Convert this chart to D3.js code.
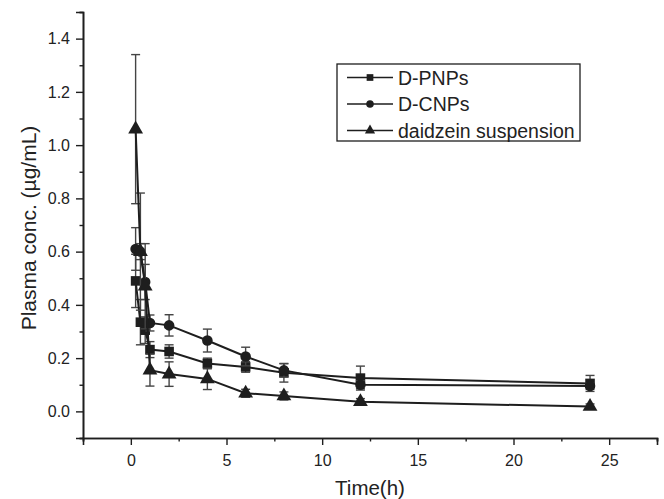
<!DOCTYPE html>
<html><head><meta charset="utf-8">
<script src="https://cdn.jsdelivr.net/npm/d3@7"></script>
<style>
html,body{margin:0;padding:0;background:#fff;}
text{font-family:"Liberation Sans",Arial,sans-serif;fill:#222;}
</style></head>
<body><svg id="c" width="664" height="499"></svg>
<script>
const times = [0.25, 0.5, 0.75, 1, 2, 4, 6, 8, 12, 24];
const dpnps = [0.49, 0.335, 0.305, 0.232, 0.225, 0.18, 0.167, 0.145, 0.125, 0.105];
const dpnpsErr = [0.10, 0.085, 0.05, 0.03, 0.025, 0.02, 0.02, 0.035, 0.045, 0.03];
const dcnps = [0.61, 0.60, 0.486, 0.332, 0.323, 0.266, 0.206, 0.154, 0.10, 0.095];
const dcnpsErr = [0.08, 0.03, 0.066, 0.03, 0.04, 0.043, 0.035, 0.025, 0.015, 0.012];
const susp = [1.06, 0.60, 0.47, 0.155, 0.14, 0.122, 0.068, 0.058, 0.036, 0.018];
const suspErr = [0.28, 0.22, 0.16, 0.06, 0.046, 0.04, 0.015, 0.015, 0.012, 0.01];
const seriesNames = ["D-PNPs", "D-CNPs", "daidzein suspension"];
const xMajor = [0, 5, 10, 15, 20, 25];
const xMinor = [-2.5, 2.5, 7.5, 12.5, 17.5, 22.5, 27.5];
const yMajor = [0.0, 0.2, 0.4, 0.6, 0.8, 1.0, 1.2, 1.4];
const yMinor = [-0.1, 0.1, 0.3, 0.5, 0.7, 0.9, 1.1, 1.3, 1.5];
const xTitle = "Time(h)";
const yTitle = "Plasma conc. (\u00b5g/mL)";

const svg = d3.select("#c");
const L = 83, R = 657, T = 12, B = 438;
const x = d3.scaleLinear().domain([-2.5, 27.5]).range([L, R]);
const y = d3.scaleLinear().domain([-0.1, 1.5]).range([B, T]);
const ink = "#1e1e1e";
const fam = '"Liberation Sans",Arial,sans-serif';

function styleAxis(g){
  g.select(".domain").attr("stroke", ink).attr("stroke-width", 1.6);
  g.selectAll(".tick line").attr("stroke", ink).attr("stroke-width", 1.4);
}
const gxm = svg.append("g").attr("transform", `translate(0,${B})`)
  .call(d3.axisBottom(x).tickValues(xMinor).tickSize(3.5).tickFormat(""));
styleAxis(gxm);
const gym = svg.append("g").attr("transform", `translate(${L},0)`)
  .call(d3.axisLeft(y).tickValues(yMinor).tickSize(3.5).tickFormat(""));
styleAxis(gym);
const gx = svg.append("g").attr("transform", `translate(0,${B})`)
  .call(d3.axisBottom(x).tickValues(xMajor).tickSize(7).tickPadding(10).tickFormat(d3.format("d")));
styleAxis(gx);
gx.selectAll("text").style("font-size", "16px").style("font-family", fam).attr("fill", "#222");
const gy = svg.append("g").attr("transform", `translate(${L},0)`)
  .call(d3.axisLeft(y).tickValues(yMajor).tickSize(7).tickPadding(6).tickFormat(d3.format(".1f")));
styleAxis(gy);
gy.selectAll("text").style("font-size", "16px").style("font-family", fam).attr("fill", "#222");

svg.append("text").attr("x", 370).attr("y", 495).attr("text-anchor", "middle")
  .style("font-size", "20.5px").text(xTitle);
svg.append("text").attr("transform", `translate(36,228) rotate(-90)`).attr("text-anchor", "middle")
  .style("font-size", "21px").text(yTitle);

const series = [
  {name: seriesNames[0], vals: dpnps, err: dpnpsErr, sym: d3.symbolSquare, size: 92},
  {name: seriesNames[1], vals: dcnps, err: dcnpsErr, sym: d3.symbolCircle, size: 88},
  {name: seriesNames[2], vals: susp, err: suspErr, sym: d3.symbolTriangle, size: 95}
];
const line = d3.line().x(d => x(d[0])).y(d => y(d[1]));
const cap = 4.5;
series.forEach(s => {
  const pts = times.map((t, i) => [t, s.vals[i], s.err[i]]);
  const g = svg.append("g");
  pts.forEach(p => {
    const cx = x(p[0]), y1 = y(p[1] + p[2]), y0 = y(p[1] - p[2]);
    g.append("line").attr("x1", cx).attr("x2", cx).attr("y1", y1).attr("y2", y0)
      .attr("stroke", "#444").attr("stroke-width", 1.4);
    [y1, y0].forEach(yy => g.append("line").attr("x1", cx - cap).attr("x2", cx + cap)
      .attr("y1", yy).attr("y2", yy).attr("stroke", "#444").attr("stroke-width", 1.4));
  });
  g.append("path").attr("d", line(pts)).attr("fill", "none").attr("stroke", ink).attr("stroke-width", 2);
  g.selectAll("path.m").data(pts).join("path").attr("class", "m")
    .attr("transform", d => `translate(${x(d[0])},${y(d[1])})`)
    .attr("d", d3.symbol().type(s.sym).size(s.size)).attr("fill", ink);
});

const lg = svg.append("g");
lg.append("rect").attr("x", 337).attr("y", 64).attr("width", 243).attr("height", 77)
  .attr("fill", "#fff").attr("stroke", ink).attr("stroke-width", 1.3);
series.forEach((s, i) => {
  const cy = 77.5 + i * 26.5;
  lg.append("line").attr("x1", 347).attr("x2", 393).attr("y1", cy).attr("y2", cy)
    .attr("stroke", ink).attr("stroke-width", 1.6);
  lg.append("path").attr("transform", `translate(370,${cy})`)
    .attr("d", d3.symbol().type(s.sym).size(45)).attr("fill", ink);
  lg.append("text").attr("x", 398).attr("y", cy).attr("dy", "0.36em")
    .style("font-size", "19.5px").text(s.name);
});
</script></body></html>
